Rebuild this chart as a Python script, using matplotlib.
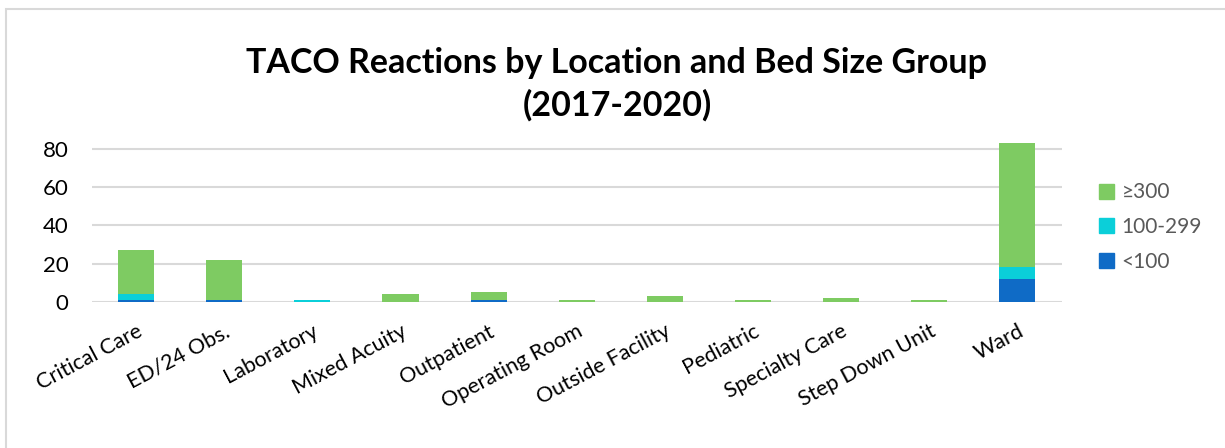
import matplotlib
matplotlib.use("Agg")
import matplotlib.pyplot as plt
from matplotlib.patches import Rectangle, Patch
import numpy as np

plt.rcParams['font.family'] = ['Lato', 'DejaVu Sans']

categories = ["Critical Care", "ED/24 Obs.", "Laboratory", "Mixed Acuity", "Outpatient",
              "Operating Room", "Outside Facility", "Pediatric", "Specialty Care",
              "Step Down Unit", "Ward"]
lt100 = [1, 1, 0, 0, 1, 0, 0, 0, 0, 0, 12]
mid = [3, 0, 1, 0, 0, 0, 0, 0, 0, 0, 6]
ge300 = [23, 21, 0, 4, 4, 1, 3, 1, 2, 1, 65]
series_names = ["<100", "100-299", "\u2265300"]
yticks = [0, 20, 40, 60, 80]

c_blue = "#0F6BC6"
c_cyan = "#0BCFD9"
c_green = "#7ECB62"

W, H = 1225, 448
fig = plt.figure(figsize=(W / 100, H / 100), dpi=100)

# outer border (top and left visible)
fig.patches.append(Rectangle((6 / W, -0.1), 1.2, (H - 9) / H + 0.1, transform=fig.transFigure,
                             fill=False, edgecolor="#D9D9D9", linewidth=1.5))

ax = fig.add_axes([92 / W, 146.3 / H, (1061.5 - 92) / W, 171.8 / H])
x = np.arange(len(categories))
bw = 0.41
b1 = np.array(lt100)
b2 = b1 + np.array(mid)
ax.bar(x, lt100, bw, color=c_blue, zorder=3)
ax.bar(x, mid, bw, bottom=b1, color=c_cyan, zorder=3)
ax.bar(x, ge300, bw, bottom=b2, color=c_green, zorder=3)

ax.set_xlim(-0.5, len(categories) - 0.5)
ax.set_ylim(0, 90)
ax.set_yticks(yticks)
ax.set_yticklabels([str(v) for v in yticks], fontsize=16, color="#000000")
ax.yaxis.grid(True, color="#D9D9D9", linewidth=1.5, zorder=0)
ax.tick_params(axis="y", length=0, pad=17)
ax.tick_params(axis="x", length=0, pad=14)
for s in ax.spines.values():
    s.set_visible(False)
ax.set_xticks(x)
ax.set_xticklabels(categories, rotation=28, ha="right", rotation_mode="anchor",
                   fontsize=15.5, color="#000000")

fig.text(617 / W, 1 - 63 / H, "TACO Reactions by Location and Bed Size Group",
         ha="center", va="center", fontsize=24.5, fontweight="bold")
fig.text(617 / W, 1 - 105 / H, "(2017-2020)",
         ha="center", va="center", fontsize=24.5, fontweight="bold")

handles = [Patch(color=c_green), Patch(color=c_cyan), Patch(color=c_blue)]
labels = [series_names[2], series_names[1], series_names[0]]
leg = fig.legend(handles, labels, loc="center left", bbox_to_anchor=(1080 / W, 1 - 227 / H),
                 frameon=False, fontsize=15, handlelength=0.75, handleheight=0.75,
                 handletextpad=0.35, labelspacing=0.7, labelcolor="#595959")

fig.savefig("out.png", dpi=100)
